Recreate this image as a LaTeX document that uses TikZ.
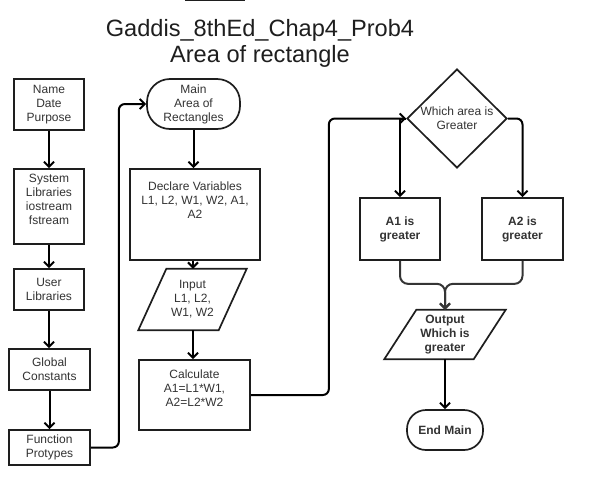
\documentclass[tikz,border=0pt]{standalone}
\usepackage{fontspec}
\setmainfont{Liberation Sans}
\usetikzlibrary{arrows.meta,calc,shapes.geometric}
\definecolor{ln}{HTML}{1E1E1E}
\definecolor{tx}{HTML}{333333}
\begin{document}
\begin{tikzpicture}[x=1pt,y=-1pt,
  nodefont/.style={font=\fontsize{12}{14}\selectfont},
  box/.style={draw=ln, line width=1.7pt, fill=white, inner sep=0pt, align=center, text=tx, nodefont},
  txt/.style={inner sep=0pt, align=center, text=tx, nodefont},
  bbox/.style={box, font=\fontsize{12}{14}\selectfont\bfseries},
  term/.style={box, rounded corners=#1},
  ghost/.style={inner sep=0pt, draw=none},
  para/.style={draw=ln, line width=1.7pt, fill=white, line join=miter},
  arr/.style={draw=black, line width=2pt, -{Straight Barb[length=5pt,width=10pt]}},
  conn/.style={draw=ln, line width=1.6pt},
  titlefont/.style={font=\fontsize{23.6}{26}\selectfont, text=ln, inner sep=0pt}
]
\useasboundingbox (0,0) rectangle (592,485);

% cut-off shape at the top edge
\draw[conn] (185,0.2) -- (245,0.2);

% title
\node[titlefont, anchor=base] (title1) at (260,36) {Gaddis\_8thEd\_Chap4\_Prob4};
\node[titlefont, anchor=base] (title2) at (260,62) {Area of rectangle};

% left column
\node[box, minimum width=70, minimum height=51] (name) at (49,104.5) {Name\\Date\\Purpose};
\node[box, minimum width=70, minimum height=75] (sys) at (49,206.5) {};
\node[txt] (sysT) at ($(sys.center)+(0,-7)$) {System\\Libraries\\iostream\\fstream};
\node[box, minimum width=70, minimum height=41] (user) at (49,289.5) {User\\Libraries};
\node[box, minimum width=81, minimum height=41] (glob) at (49.5,369.5) {Global\\Constants};
\node[box, minimum width=81, minimum height=35] (func) at (49.5,447.5) {Function\\Protypes};

% middle column
\node[term=23pt, minimum width=93, minimum height=50] (main) at (193.5,104) {Main\\Area of\\Rectangles};
\node[box, minimum width=130, minimum height=91] (decl) at (195,214.5) {};
\node[txt] (declT) at ($(decl.center)+(0,-14)$) {Declare Variables\\L1, L2, W1, W2, A1,\\A2};
\node[ghost, minimum width=80, minimum height=61] (inp) at (192.5,299.5) {};
\draw[para] ($(inp.south west)+(-14,0)$) -- ($(inp.south east)+(-14,0)$) -- ($(inp.north east)+(14,0)$) -- ($(inp.north west)+(14,0)$) -- cycle;
\node[txt] (inpT) at (inp.center) {Input\\L1, L2,\\W1, W2};
\node[box, minimum width=111, minimum height=70] (calc) at (194.5,395) {};
\node[txt] (calcT) at ($(calc.center)+(0,-7)$) {Calculate\\A1=L1*W1,\\A2=L2*W2};

% right part
\node[diamond, draw=ln, line width=1.7pt, fill=white, inner sep=0pt, minimum width=100, minimum height=99] (dia) at (457,118.5) {};
\node[txt] (diaT) at (dia.center) {Which area is\\Greater};
\node[bbox, minimum width=80, minimum height=62] (a1) at (400,229) {A1 is\\greater};
\node[bbox, minimum width=81, minimum height=62] (a2) at (522.5,229) {A2 is\\greater};
\node[ghost, minimum width=89, minimum height=49] (out) at (445,334.5) {};
\draw[para] ($(out.south west)+(-16,0)$) -- ($(out.south east)+(-16,0)$) -- ($(out.north east)+(16,0)$) -- ($(out.north west)+(16,0)$) -- cycle;
\node[txt, font=\fontsize{12}{14}\selectfont\bfseries] (outT) at (out.center) {Output\\Which is\\greater};
\node[term=19pt, font=\fontsize{12}{14}\selectfont\bfseries, minimum width=76, minimum height=40] (endm) at (445,430) {End Main};

% connectors
\draw[arr] (name) -- (sys);
\draw[arr] (sys) -- (user);
\draw[arr] (user.south) -- (user.south |- glob.north);
\draw[arr] (glob) -- (func);
\draw[arr, rounded corners=6pt] (func.east) -- ++(28,0) |- (main.west);
\draw[arr] (main.south) -- (main.south |- decl.north);
\draw[arr] (decl.south -| 193,0) -- (inp.north -| 193,0);
\draw[arr] (inp.south -| 193,0) -- (calc.north -| 193,0);
\draw[arr, rounded corners=6pt] (calc.east) -- ++(78,0) |- (dia.west);
\draw[arr] (dia.west) -| (a1.north);
\draw[arr, rounded corners=6pt] (dia.east) -| (a2.north);
\draw[arr, draw=ln!90, rounded corners=8pt] (a1.south) -- ++(0,23) -| (out.north);
\draw[arr, draw=ln!90, rounded corners=8pt] (a2.south) -- ++(0,23) -| (out.north);
\draw[arr] (out.south) -- (endm.north);
\end{tikzpicture}
\end{document}
